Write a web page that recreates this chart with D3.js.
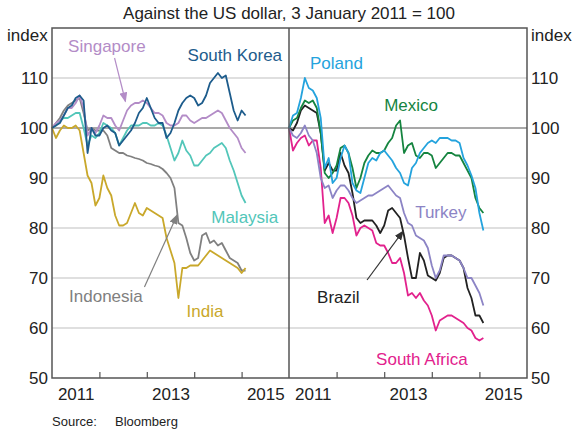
<!DOCTYPE html>
<html>
<head>
<meta charset="utf-8">
<script src="https://cdn.jsdelivr.net/npm/d3@7"></script>
<style>
  body { margin: 0; background: #fff; }
  text { font-family: "Liberation Sans", Arial, sans-serif; }
</style>
</head>
<body>
<div id="chart"></div>
<script>
// monthly readings, index 3 Jan 2011 = 100
const months = ["2011-01","2011-02","2011-03","2011-04","2011-05","2011-06","2011-07","2011-08","2011-09","2011-10","2011-11","2011-12",
  "2012-01","2012-02","2012-03","2012-04","2012-05","2012-06","2012-07","2012-08","2012-09","2012-10","2012-11","2012-12",
  "2013-01","2013-02","2013-03","2013-04","2013-05","2013-06","2013-07","2013-08","2013-09","2013-10","2013-11","2013-12",
  "2014-01","2014-02","2014-03","2014-04","2014-05","2014-06","2014-07","2014-08","2014-09","2014-10","2014-11","2014-12",
  "2015-01","2015-02"];

const southKorea = [100,100.5,101,102.5,104,104.5,106,106.5,105.5,95,100,98.5,98.5,100,100.5,99.5,99,96.5,97.5,98.5,99.5,101,103,104,106,104,102,101,101,98,99,101,103.5,105,106,106.5,106,104.5,105,106.5,109,110,111,110,110.5,107,103.5,101.5,103.5,102.5];
const singapore = [100,101,101.5,102.5,104,104,105,106.5,104,98.5,100,99,100.5,102.5,102,102,100.5,99.5,101.5,103.5,104.5,105,105,105.5,105,104,103,103,102.5,101,100.5,100.5,101,102.5,102.5,101.5,101,101.5,102,102,102.5,103,103.5,103,101.5,100,99,98,96,95];
const malaysia = [100,100.5,101.5,102,102,102.5,103,103,100,96.5,98.5,98,99,101,100.5,100,99,96.5,98,99.5,100.5,100.5,100.5,101,101,100.5,100.5,101,100.5,98.5,96,93.5,95,97.5,95.5,94.5,92.5,92.5,93.5,94.5,95,96,96.5,97,96,93.5,91.5,89,86.5,85];
const indonesia = [100,101,102,103.5,104.5,105,105.5,106,103,99.5,100,99.5,99.5,99.5,98.5,96,95.5,95,95,94.5,94.3,94,93.8,93.5,93,92.8,92.5,92.3,91.8,91,90,88,81,80.5,78,75,73.5,74,78.5,79,77,77.5,76.5,77,75.5,74,73.5,73,71.5,71.5];
const india = [100,98,99.5,100.5,100,100,100.5,99.5,95,90.5,89,84.5,86,90.5,88,86.5,82.5,80.5,80.5,81,83,85,83,82.5,84,83.5,83,82.5,82,78,75.5,73,66,72,72,72.5,72.5,72.5,73.5,74.5,75.5,75,74.5,74,73.5,73,72.5,72,71,72];

const poland = [100,102.5,103,106,110,108,107.5,106,102,92,94,89,90,94,96.5,95,89,87.5,87,90,93,94,93.5,95,95.5,94.5,93.5,92,91,89,88.5,92,93,95,96,97,97.5,97,98,98,98,97.5,97.5,97,94,92.5,90.5,88,83,79.5];
const mexico = [100,101.5,102,104,105.5,105,105.5,104,99,91,90,91,92.5,96,96.5,95,92,88,90,93,94.5,95.5,95,95,95.5,97,98,100.5,101.5,95,96.5,97,94.5,94,95,95,94.5,92,93,94,95,95,94.5,94.5,93,91.5,90,86,84,83];
const turkey = [100,98.5,98,99,100.5,98.5,97.5,95,90,88,88.5,86,87.5,88.5,88.5,87.5,86,85,85.5,86,86.5,86.5,87,87.5,88,88.5,87.5,86.5,86,83,81,80.5,78.5,78,77.5,76,72.5,70,71.5,74.5,74.5,74.5,74,73.5,72,70,70,68.5,67,64.5];
const brazil = [100,99.5,101,103.5,104.5,104,103.5,103,99,91.5,93,91.5,91.5,95,92.5,91,87,82,81,81.5,81.5,81.5,80.5,79,80.5,83.5,84,83,82,78.5,74,70,70,75,73.5,70.5,70,69.5,71,74,74.5,74.5,74,73.5,72,68,66,62.5,62.5,61];
const southAfrica = [100,95.5,97,98,98.5,96.5,97.5,97.5,92,81,82.5,79,82,86,86,85,82.5,78.5,80,80.5,80,79.5,77,76.5,76.5,75,73,73,74,71,66.5,67,66,67,65.5,64.5,62.5,59.5,61.5,62,62.5,62.5,62,61.5,61,60,59.5,58,57.5,58];

const yTicks = [50, 60, 70, 80, 90, 100, 110];
const yearTicks = [2012, 2013, 2014, 2015];
const yearLabels = [2011, 2013, 2015];

const W = 575, H = 430;
const plotTop = 28, plotBottom = 378;

const svg = d3.select("#chart").append("svg")
  .attr("width", W).attr("height", H);

const y = d3.scaleLinear().domain([50, 120]).range([plotBottom, plotTop]);
const toYear = s => +s.slice(0, 4) + (+s.slice(5) - 1) / 12;

const panels = [
  { x0: 52, x1: 289, series: [
      { name: "Indonesia", values: indonesia, color: "#808080" },
      { name: "India", values: india, color: "#c9a82b" },
      { name: "Malaysia", values: malaysia, color: "#52c6b9" },
      { name: "Singapore", values: singapore, color: "#b38cc7" },
      { name: "South Korea", values: southKorea, color: "#1d5c8c" }
    ],
    labels: [
      { text: "Singapore", yr: 2011.34, v: 115.2, color: "#b38cc7" },
      { text: "South Korea", yr: 2013.86, v: 113.4, color: "#1d5c8c" },
      { text: "Malaysia", yr: 2014.36, v: 81, color: "#52c6b9" },
      { text: "Indonesia", yr: 2011.36, v: 65.2, color: "#808080" },
      { text: "India", yr: 2013.84, v: 62.2, color: "#c9a82b" }
    ],
    arrows: [
      { from: [2012.32, 114], to: [2012.55, 105.3], color: "#b38cc7" },
      { from: [2012.95, 68.2], to: [2013.64, 82.6], color: "#808080" }
    ]
  },
  { x0: 289, x1: 527, series: [
      { name: "South Africa", values: southAfrica, color: "#e2228d" },
      { name: "Brazil", values: brazil, color: "#222222" },
      { name: "Turkey", values: turkey, color: "#8c84c5" },
      { name: "Mexico", values: mexico, color: "#15843f" },
      { name: "Poland", values: poland, color: "#24a3dd" }
    ],
    labels: [
      { text: "Poland", yr: 2011.44, v: 111.8, color: "#24a3dd" },
      { text: "Mexico", yr: 2013.0, v: 103.4, color: "#15843f" },
      { text: "Turkey", yr: 2013.65, v: 82, color: "#8c84c5" },
      { text: "Brazil", yr: 2011.59, v: 65, color: "#222222" },
      { text: "South Africa", yr: 2012.83, v: 52.6, color: "#e2228d" }
    ],
    arrows: [
      { from: [2012.64, 69.6], to: [2013.4, 79.4], color: "#333333" }
    ]
  }
];

// arrow heads, one per colour
const defs = svg.append("defs");
const markerId = c => "arr" + c.slice(1);
panels.forEach(p => p.arrows.forEach(a => {
  if (!defs.select("#" + markerId(a.color)).empty()) return;
  defs.append("marker").attr("id", markerId(a.color))
    .attr("viewBox", "0 -4 10 8").attr("refX", 9).attr("refY", 0)
    .attr("markerWidth", 10).attr("markerHeight", 8)
    .attr("markerUnits", "userSpaceOnUse").attr("orient", "auto")
    .append("path").attr("d", "M0,-4L10,0L0,4Z").attr("fill", a.color);
}));

panels.forEach(p => {
  const x = d3.scaleLinear().domain([2011, 2016]).range([p.x0, p.x1]);
  const g = svg.append("g");

  // grid
  g.selectAll(".grid").data([60, 70, 80, 90, 110]).join("line")
    .attr("x1", p.x0).attr("x2", p.x1)
    .attr("y1", d => y(d)).attr("y2", d => y(d))
    .attr("stroke", "#d4d4d4").attr("stroke-width", 1.5);
  g.append("line").attr("x1", p.x0).attr("x2", p.x1)
    .attr("y1", y(100)).attr("y2", y(100))
    .attr("stroke", "#555").attr("stroke-width", 1.2);

  // series
  const line = d3.line().x((d, i) => x(toYear(months[i]))).y(d => y(d));
  p.series.forEach(s => {
    g.append("path").datum(s.values)
      .attr("d", line).attr("fill", "none")
      .attr("stroke", s.color).attr("stroke-width", 1.8)
      .attr("stroke-linejoin", "round");
  });

  // year ticks (inside) and labels
  g.append("g").attr("transform", `translate(0,${plotBottom})`)
    .call(d3.axisBottom(x).tickValues(yearTicks).tickSize(-6).tickFormat(""))
    .call(a => a.select(".domain").remove())
    .call(a => a.selectAll("line").attr("stroke", "#555").attr("stroke-width", 1.2));
  g.append("g").attr("transform", `translate(0,${plotBottom})`)
    .call(d3.axisBottom(x).tickValues(yearLabels.map(d => d + 0.5)).tickSize(0).tickPadding(10)
      .tickFormat(d => Math.floor(d)))
    .call(a => a.select(".domain").remove())
    .call(a => a.selectAll("text").attr("font-size", 17).attr("fill", "#222")
      .attr("font-family", "Liberation Sans, Arial, sans-serif"));

  // labels
  p.labels.forEach(l => {
    g.append("text").attr("x", x(l.yr)).attr("y", y(l.v))
      .attr("font-size", 17).attr("fill", l.color).text(l.text);
  });
  p.arrows.forEach(a => {
    g.append("line")
      .attr("x1", x(a.from[0])).attr("y1", y(a.from[1]))
      .attr("x2", x(a.to[0])).attr("y2", y(a.to[1]))
      .attr("stroke", a.color).attr("stroke-width", 1.2)
      .attr("marker-end", `url(#${markerId(a.color)})`);
  });
});

// frame and divider
svg.append("rect").attr("x", 52).attr("y", plotTop)
  .attr("width", 527 - 52).attr("height", plotBottom - plotTop)
  .attr("fill", "none").attr("stroke", "#555").attr("stroke-width", 1.5);
svg.append("line").attr("x1", 289).attr("x2", 289)
  .attr("y1", plotTop).attr("y2", plotBottom)
  .attr("stroke", "#555").attr("stroke-width", 1.5);

// y axes
svg.append("g").attr("transform", "translate(52,0)")
  .call(d3.axisLeft(y).tickValues(yTicks).tickSize(0).tickPadding(4))
  .call(a => a.select(".domain").remove())
  .call(a => a.selectAll("text").attr("font-size", 17).attr("fill", "#222")
    .attr("font-family", "Liberation Sans, Arial, sans-serif"));
svg.append("g").attr("transform", "translate(527,0)")
  .call(d3.axisRight(y).tickValues(yTicks).tickSize(0).tickPadding(4))
  .call(a => a.select(".domain").remove())
  .call(a => a.selectAll("text").attr("font-size", 17).attr("fill", "#222")
    .attr("font-family", "Liberation Sans, Arial, sans-serif"));

svg.append("text").attr("x", 7).attr("y", 41).attr("font-size", 17).attr("fill", "#222").text("index");
svg.append("text").attr("x", 531).attr("y", 41).attr("font-size", 17).attr("fill", "#222").text("index");

svg.append("text").attr("x", 289).attr("y", 19).attr("text-anchor", "middle")
  .attr("font-size", 17).attr("fill", "#222").text("Against the US dollar, 3 January 2011 = 100");

svg.append("text").attr("x", 52).attr("y", 426).attr("font-size", 13).attr("fill", "#222").text("Source:");
svg.append("text").attr("x", 115).attr("y", 426).attr("font-size", 13).attr("fill", "#222").text("Bloomberg");
</script>
</body>
</html>
